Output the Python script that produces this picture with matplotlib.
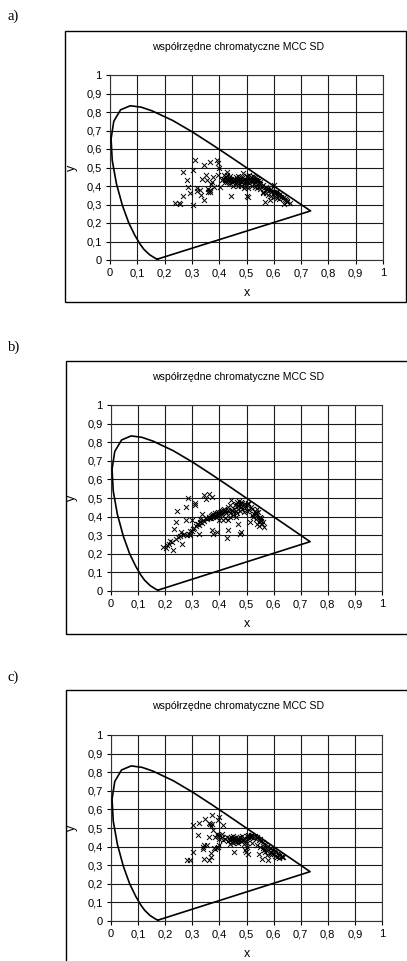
import matplotlib
matplotlib.use("Agg")
import matplotlib.pyplot as plt
from matplotlib.patches import Rectangle

# CIE 1931 spectral locus (x, y)
locus_x = [0.1741, 0.1738, 0.1721, 0.1666, 0.1566, 0.1440, 0.1241, 0.1096, 0.0913, 0.0687,
           0.0454, 0.0235, 0.0082, 0.0039, 0.0139, 0.0389, 0.0743, 0.1142, 0.1547, 0.2296,
           0.3016, 0.3731, 0.4441, 0.5125, 0.5752, 0.6270, 0.6658, 0.6915, 0.7079, 0.7190,
           0.7347]
locus_y = [0.0050, 0.0049, 0.0048, 0.0089, 0.0177, 0.0297, 0.0578, 0.0868, 0.1327, 0.2007,
           0.2950, 0.4127, 0.5384, 0.6548, 0.7502, 0.8120, 0.8338, 0.8262, 0.8059, 0.7543,
           0.6923, 0.6245, 0.5547, 0.4866, 0.4242, 0.3725, 0.3340, 0.3083, 0.2920, 0.2809,
           0.2653]

a_x = [0.238, 0.251, 0.257, 0.267, 0.268, 0.281, 0.287, 0.293, 0.303, 0.303, 0.312, 0.318,
       0.328, 0.334, 0.336, 0.345, 0.345, 0.352, 0.355, 0.361, 0.367, 0.367, 0.375, 0.379,
       0.381, 0.391, 0.395, 0.397, 0.401, 0.403, 0.411, 0.418, 0.428, 0.444, 0.501, 0.507,
       0.568, 0.507, 0.495, 0.562, 0.575, 0.599, 0.611, 0.636, 0.636, 0.648, 0.660, 0.587,
       0.550, 0.526, 0.489, 0.358, 0.365, 0.370, 0.360, 0.320,
       0.420, 0.425, 0.430, 0.432, 0.435, 0.440, 0.442, 0.445, 0.448, 0.450, 0.452, 0.455,
       0.458, 0.460, 0.462, 0.465, 0.468, 0.470, 0.472, 0.475, 0.478, 0.480, 0.482, 0.485,
       0.488, 0.490, 0.492, 0.495, 0.498, 0.500, 0.502, 0.505, 0.508, 0.510, 0.512, 0.515,
       0.518, 0.520, 0.522, 0.525, 0.528, 0.530, 0.532, 0.535, 0.538, 0.540, 0.545, 0.548,
       0.550, 0.555, 0.560, 0.565, 0.570, 0.575, 0.580, 0.585, 0.588, 0.590, 0.595, 0.600,
       0.603, 0.607, 0.610, 0.615, 0.620, 0.623, 0.628, 0.632, 0.640, 0.645, 0.650, 0.425,
       0.430, 0.440, 0.415, 0.420, 0.435, 0.460, 0.470, 0.480, 0.500, 0.510, 0.515, 0.525,
       0.530, 0.540, 0.545, 0.520, 0.530, 0.540, 0.550, 0.560, 0.570, 0.580, 0.590, 0.600,
       0.610, 0.620, 0.470, 0.480, 0.500, 0.490, 0.460, 0.450]
a_y = [0.306, 0.306, 0.302, 0.345, 0.477, 0.432, 0.396, 0.360, 0.297, 0.489, 0.540, 0.387,
       0.378, 0.351, 0.437, 0.327, 0.513, 0.459, 0.432, 0.374, 0.365, 0.531, 0.423, 0.450,
       0.396, 0.540, 0.522, 0.459, 0.498, 0.396, 0.432, 0.459, 0.477, 0.345, 0.345, 0.338,
       0.315, 0.387, 0.396, 0.360, 0.378, 0.405, 0.369, 0.342, 0.302, 0.315, 0.309, 0.324,
       0.423, 0.450, 0.468, 0.370, 0.380, 0.410, 0.385, 0.372,
       0.430, 0.440, 0.420, 0.435, 0.445, 0.425, 0.430, 0.440, 0.420, 0.435, 0.425, 0.440,
       0.430, 0.420, 0.435, 0.440, 0.425, 0.430, 0.415, 0.440, 0.430, 0.420, 0.435, 0.445,
       0.425, 0.430, 0.410, 0.440, 0.425, 0.435, 0.420, 0.445, 0.430, 0.415, 0.440, 0.425,
       0.435, 0.420, 0.440, 0.430, 0.410, 0.435, 0.420, 0.430, 0.410, 0.425, 0.415, 0.400,
       0.410, 0.400, 0.405, 0.390, 0.395, 0.385, 0.390, 0.380, 0.370, 0.385, 0.375, 0.370,
       0.360, 0.365, 0.355, 0.350, 0.345, 0.355, 0.340, 0.335, 0.330, 0.325, 0.320, 0.450,
       0.460, 0.455, 0.440, 0.420, 0.410, 0.450, 0.455, 0.450, 0.455, 0.460, 0.450, 0.455,
       0.445, 0.440, 0.430, 0.400, 0.395, 0.390, 0.385, 0.370, 0.360, 0.350, 0.345, 0.340,
       0.335, 0.330, 0.400, 0.400, 0.405, 0.390, 0.410, 0.400]

b_x = [0.193, 0.203, 0.206, 0.218, 0.230, 0.234, 0.239, 0.243, 0.249, 0.257, 0.261, 0.270,
       0.277, 0.277, 0.283, 0.286, 0.292, 0.298, 0.304, 0.310, 0.310, 0.317, 0.326, 0.329,
       0.335, 0.345, 0.351, 0.363, 0.372, 0.372, 0.378, 0.390, 0.413, 0.427, 0.433, 0.443,
       0.477, 0.478, 0.470, 0.507, 0.514, 0.526, 0.538, 0.544, 0.550, 0.557, 0.563, 0.547,
       0.280, 0.300, 0.315, 0.320, 0.330, 0.340,
       0.215, 0.225, 0.240, 0.255, 0.265, 0.290, 0.305, 0.325, 0.335, 0.345,
       0.350, 0.355, 0.360, 0.362, 0.365, 0.368, 0.370, 0.372, 0.375, 0.378, 0.380, 0.382,
       0.385, 0.388, 0.390, 0.392, 0.395, 0.398, 0.400, 0.402, 0.405, 0.408, 0.410, 0.412,
       0.415, 0.418, 0.420, 0.425, 0.430, 0.435, 0.440, 0.445, 0.450, 0.455, 0.460, 0.465,
       0.470, 0.475, 0.480, 0.485, 0.490, 0.495, 0.500, 0.458, 0.462, 0.465, 0.470, 0.472,
       0.475, 0.478, 0.480, 0.485, 0.490, 0.495, 0.500, 0.505, 0.468, 0.440, 0.430, 0.450,
       0.460, 0.440, 0.420, 0.400, 0.430, 0.520, 0.525, 0.530, 0.535, 0.540, 0.545, 0.550,
       0.552, 0.555, 0.540, 0.545, 0.560, 0.535, 0.520, 0.515, 0.510]
b_y = [0.237, 0.230, 0.245, 0.269, 0.219, 0.335, 0.371, 0.428, 0.290, 0.315, 0.251, 0.308,
       0.452, 0.380, 0.500, 0.308, 0.299, 0.380, 0.335, 0.473, 0.461, 0.362, 0.308, 0.389,
       0.416, 0.514, 0.496, 0.523, 0.505, 0.330, 0.308, 0.317, 0.380, 0.287, 0.330, 0.487,
       0.308, 0.317, 0.362, 0.469, 0.371, 0.416, 0.443, 0.425, 0.380, 0.362, 0.344, 0.371,
       0.300, 0.320, 0.350, 0.360, 0.370, 0.380,
       0.255, 0.265, 0.280, 0.295, 0.300, 0.320, 0.340, 0.355, 0.365, 0.375,
       0.390, 0.385, 0.395, 0.400, 0.390, 0.405, 0.395, 0.410, 0.400, 0.415, 0.405, 0.420,
       0.410, 0.400, 0.420, 0.410, 0.425, 0.415, 0.405, 0.425, 0.415, 0.430, 0.420, 0.435,
       0.425, 0.440, 0.430, 0.420, 0.435, 0.430, 0.420, 0.435, 0.425, 0.440, 0.430, 0.420,
       0.440, 0.430, 0.450, 0.440, 0.425, 0.445, 0.430, 0.460, 0.470, 0.480, 0.465, 0.485,
       0.470, 0.480, 0.470, 0.475, 0.460, 0.470, 0.465, 0.475, 0.455, 0.460, 0.450, 0.410,
       0.400, 0.400, 0.390, 0.380, 0.380, 0.410, 0.400, 0.430, 0.420, 0.410, 0.395, 0.400,
       0.390, 0.375, 0.360, 0.350, 0.370, 0.385, 0.440, 0.450, 0.435]

c_x = [0.280, 0.292, 0.302, 0.304, 0.320, 0.326, 0.339, 0.341, 0.344, 0.344, 0.347, 0.353,
       0.360, 0.363, 0.369, 0.368, 0.372, 0.372, 0.378, 0.384, 0.384, 0.393, 0.397, 0.400,
       0.409, 0.413, 0.415, 0.427, 0.454, 0.489, 0.495, 0.498, 0.507, 0.501, 0.547, 0.557,
       0.563, 0.575, 0.581, 0.594, 0.612, 0.631, 0.365, 0.370, 0.360, 0.390, 0.395, 0.380,
       0.430, 0.435, 0.440, 0.442, 0.445, 0.448, 0.450, 0.452, 0.455, 0.458, 0.460, 0.462,
       0.465, 0.468, 0.470, 0.472, 0.475, 0.478, 0.480, 0.485, 0.488, 0.490, 0.495, 0.500,
       0.502, 0.505, 0.508, 0.510, 0.515, 0.518, 0.520, 0.525, 0.530, 0.535, 0.540, 0.545,
       0.550, 0.555, 0.560, 0.565, 0.570, 0.575, 0.580, 0.585, 0.590, 0.595, 0.600, 0.605,
       0.610, 0.615, 0.620, 0.625, 0.630, 0.635, 0.590, 0.600, 0.580, 0.570, 0.560, 0.550,
       0.540, 0.520, 0.500, 0.470, 0.450, 0.440, 0.420, 0.410, 0.400, 0.390, 0.400, 0.395,
       0.620, 0.605, 0.585, 0.570]
c_y = [0.330, 0.330, 0.371, 0.514, 0.461, 0.527, 0.398, 0.389, 0.407, 0.335, 0.550, 0.407,
       0.452, 0.330, 0.344, 0.366, 0.568, 0.523, 0.487, 0.452, 0.389, 0.541, 0.559, 0.407,
       0.470, 0.514, 0.434, 0.452, 0.371, 0.416, 0.380, 0.371, 0.362, 0.398, 0.362, 0.335,
       0.380, 0.353, 0.326, 0.362, 0.344, 0.344, 0.520, 0.510, 0.525, 0.390, 0.400, 0.395,
       0.430, 0.445, 0.435, 0.450, 0.425, 0.440, 0.455, 0.430, 0.445, 0.435, 0.450, 0.425,
       0.440, 0.430, 0.445, 0.435, 0.450, 0.430, 0.440, 0.455, 0.435, 0.445, 0.430, 0.455,
       0.440, 0.460, 0.445, 0.455, 0.465, 0.450, 0.460, 0.445, 0.455, 0.440, 0.450, 0.435,
       0.440, 0.430, 0.425, 0.415, 0.410, 0.400, 0.405, 0.395, 0.390, 0.380, 0.385, 0.375,
       0.370, 0.365, 0.360, 0.355, 0.350, 0.345, 0.370, 0.360, 0.380, 0.385, 0.390, 0.400,
       0.410, 0.420, 0.420, 0.420, 0.420, 0.415, 0.440, 0.450, 0.460, 0.470, 0.440, 0.455,
       0.340, 0.350, 0.360, 0.370]

panel_labels = ["a)", "b)", "c)"]
title = "współrzędne chromatyczne MCC SD"
tick_vals = [0, 0.1, 0.2, 0.3, 0.4, 0.5, 0.6, 0.7, 0.8, 0.9, 1]
tick_labels = ["0", "0,1", "0,2", "0,3", "0,4", "0,5", "0,6", "0,7", "0,8", "0,9", "1"]

W, H = 407, 961
fig = plt.figure(figsize=(W / 100, H / 100), dpi=100)
fig.patch.set_facecolor("white")

SANS = ["Liberation Sans", "DejaVu Sans"]
SERIF = ["Liberation Serif", "DejaVu Serif"]

# (box_left, box_top, box_right, box_bottom, ax_left, ax_top, ax_right, ax_bottom, label_y)
layouts = [
    (65, 31, 406, 302, 110, 75, 383, 260, 16),
    (66, 361, 410, 634, 111, 405, 382, 591, 347),
    (66, 690, 410, 970, 111, 735, 382, 921, 677),
]
datasets = [(a_x, a_y), (b_x, b_y), (c_x, c_y)]


def fx(px):
    return px / W


def fy(py):
    return 1 - py / H


for (bl, bt, br, bb, al, at, ar, ab, ly), (sx, sy), lab in zip(layouts, datasets, panel_labels):
    fig.patches.append(Rectangle((fx(bl), fy(bb)), fx(br) - fx(bl), fy(bt) - fy(bb),
                                 transform=fig.transFigure, fill=False,
                                 edgecolor="black", linewidth=1.0, zorder=0))
    fig.text(fx(8), fy(ly), lab, family=SERIF, fontsize=10.5, va="center", ha="left")
    fig.text(fx(238), fy(bt + 16), title, family=SANS,
             fontsize=7.6, ha="center", va="center")

    ax = fig.add_axes([fx(al), fy(ab), fx(ar) - fx(al), fy(at) - fy(ab)])
    ax.set_xlim(0, 1)
    ax.set_ylim(0, 1)
    ax.set_xticks(tick_vals)
    ax.set_yticks(tick_vals)
    ax.set_xticklabels(tick_labels, family=SANS, fontsize=8)
    ax.set_yticklabels(tick_labels, family=SANS, fontsize=8)
    ax.tick_params(direction="out", length=3, width=0.8, pad=3, colors="black")
    ax.grid(True, color="#1a1a1a", linewidth=0.8)
    ax.set_axisbelow(True)
    for s in ax.spines.values():
        s.set_linewidth(0.8)
        s.set_color("#333333")
    ax.set_xlabel("x", family=SANS, fontsize=9)
    ax.set_ylabel("y", family=SANS, fontsize=9)
    h = ab - at
    w = ar - al
    ax.xaxis.set_label_coords(0.5, -27 / h)
    ax.yaxis.set_label_coords(-(al - 78) / w, 0.5)

    lx = list(locus_x) + [locus_x[0]]
    lyy = list(locus_y) + [locus_y[0]]
    ax.plot(lx, lyy, color="black", linewidth=1.2, zorder=3, clip_on=False)
    ax.scatter(sx, sy, marker="x", s=13, color="black", linewidths=0.7, zorder=4)

fig.savefig("out.png", dpi=100, facecolor="white")
